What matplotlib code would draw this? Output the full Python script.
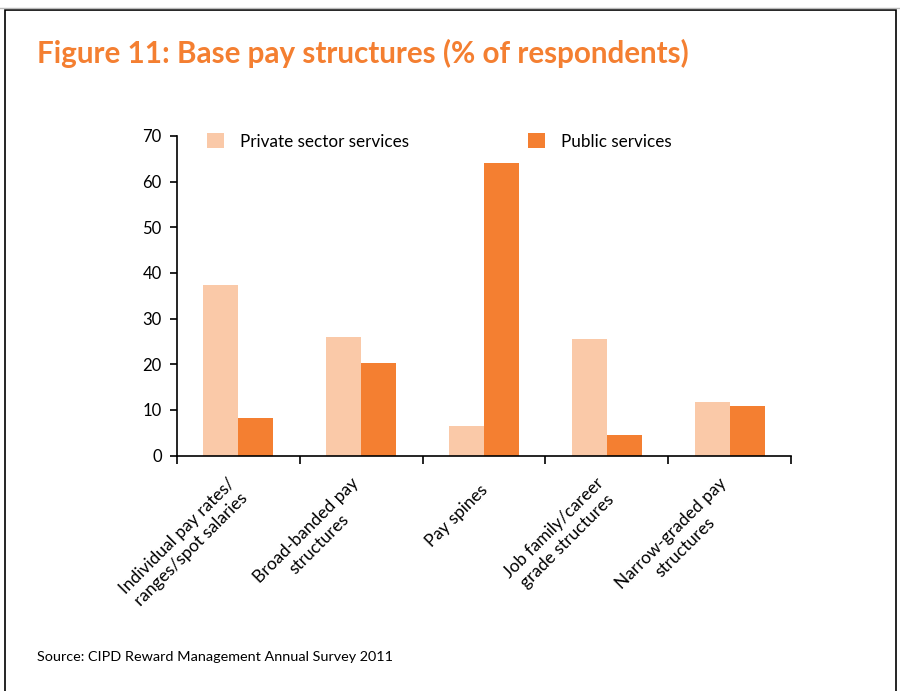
import matplotlib
matplotlib.use("Agg")
import matplotlib.pyplot as plt
from matplotlib.patches import Rectangle
import numpy as np

categories = ["Individual pay rates/\nranges/spot salaries",
              "Broad-banded pay\nstructures",
              "Pay spines",
              "Job family/career\ngrade structures",
              "Narrow-graded pay\nstructures"]
private = [37.3, 26.0, 6.4, 25.5, 11.7]
public = [8.2, 20.2, 64.0, 4.4, 10.8]
series_names = ["Private sector services", "Public services"]
yticks = [0, 10, 20, 30, 40, 50, 60, 70]

plt.rcParams['font.family'] = ['Lato', 'DejaVu Sans']

fig = plt.figure(figsize=(9, 6.91), dpi=100)
W, H = 900, 691

# frame
fig.patches.append(Rectangle((5 / W, -0.01), 891 / W, 1 - 10 / H + 0.01,
                             transform=fig.transFigure, fill=False,
                             edgecolor='black', linewidth=1.2))
fig.add_artist(plt.Line2D([0, 1], [1 - 8 / H, 1 - 8 / H], transform=fig.transFigure,
                          color='#bbbbbb', linewidth=1))

fig.text(37 / W, 1 - 53 / H, "Figure 11: Base pay structures (% of respondents)",
         color='#F47F31', fontsize=21.3, fontweight='bold', va='center', ha='left')
fig.text(37 / W, 1 - 657 / H, "Source: CIPD Reward Management Annual Survey 2011",
         color='black', fontsize=10.4, va='center', ha='left')

ax = fig.add_axes([177 / W, 235.5 / H, 614 / W, 319.5 / H])
x = np.arange(len(categories))
bw = 0.285
ax.bar(x - bw / 2, private, width=bw, color='#FAC9A8', label=series_names[0])
ax.bar(x + bw / 2, public, width=bw, color='#F47F31', label=series_names[1])

ax.set_xlim(-0.5, len(categories) - 0.5)
ax.set_ylim(0, 70)
ax.set_yticks(yticks)
ax.tick_params(axis='y', direction='out', length=5, width=1.2, labelsize=12, pad=6)
ax.set_xticks(np.arange(-0.5, len(categories), 1.0))
ax.set_xticklabels([])
ax.tick_params(axis='x', direction='out', length=6, width=1.2)
for s in ['top', 'right']:
    ax.spines[s].set_visible(False)
for s in ['left', 'bottom']:
    ax.spines[s].set_linewidth(1.2)

for xi, lab in zip(x, categories):
    ax.text(xi + 0.01, -7.0, lab, rotation=45, rotation_mode='anchor',
            ha='right', va='center', multialignment='center', fontsize=12.5,
            transform=ax.transData)

h, l = ax.get_legend_handles_labels()
leg = ax.legend(h, l, loc='upper left', bbox_to_anchor=(0.024, 1.057), ncol=2,
                frameon=False, fontsize=12.3, handlelength=1.0, handleheight=1.0,
                columnspacing=7.0, handletextpad=0.9)

fig.savefig("out.png", dpi=100)
